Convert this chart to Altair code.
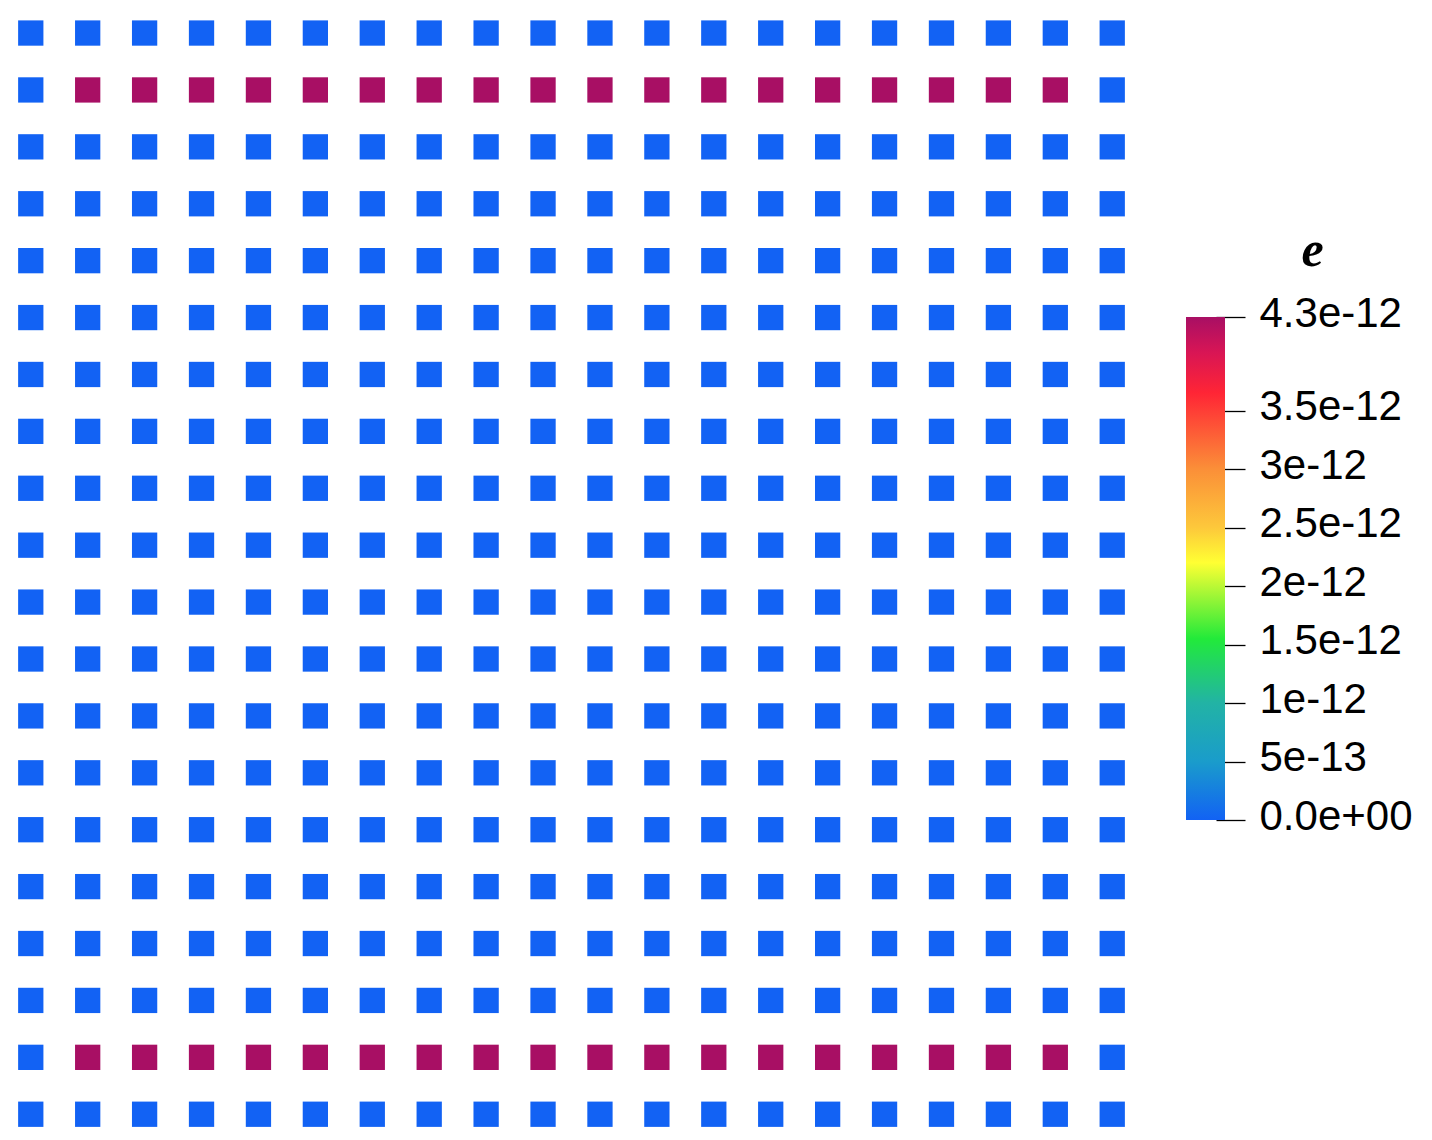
import altair as alt
import pandas as pd

Z = 0.0
H = 4.3e-12
GRID = [
    [Z, Z, Z, Z, Z, Z, Z, Z, Z, Z, Z, Z, Z, Z, Z, Z, Z, Z, Z, Z],
    [Z, H, H, H, H, H, H, H, H, H, H, H, H, H, H, H, H, H, H, Z],
    [Z, Z, Z, Z, Z, Z, Z, Z, Z, Z, Z, Z, Z, Z, Z, Z, Z, Z, Z, Z],
    [Z, Z, Z, Z, Z, Z, Z, Z, Z, Z, Z, Z, Z, Z, Z, Z, Z, Z, Z, Z],
    [Z, Z, Z, Z, Z, Z, Z, Z, Z, Z, Z, Z, Z, Z, Z, Z, Z, Z, Z, Z],
    [Z, Z, Z, Z, Z, Z, Z, Z, Z, Z, Z, Z, Z, Z, Z, Z, Z, Z, Z, Z],
    [Z, Z, Z, Z, Z, Z, Z, Z, Z, Z, Z, Z, Z, Z, Z, Z, Z, Z, Z, Z],
    [Z, Z, Z, Z, Z, Z, Z, Z, Z, Z, Z, Z, Z, Z, Z, Z, Z, Z, Z, Z],
    [Z, Z, Z, Z, Z, Z, Z, Z, Z, Z, Z, Z, Z, Z, Z, Z, Z, Z, Z, Z],
    [Z, Z, Z, Z, Z, Z, Z, Z, Z, Z, Z, Z, Z, Z, Z, Z, Z, Z, Z, Z],
    [Z, Z, Z, Z, Z, Z, Z, Z, Z, Z, Z, Z, Z, Z, Z, Z, Z, Z, Z, Z],
    [Z, Z, Z, Z, Z, Z, Z, Z, Z, Z, Z, Z, Z, Z, Z, Z, Z, Z, Z, Z],
    [Z, Z, Z, Z, Z, Z, Z, Z, Z, Z, Z, Z, Z, Z, Z, Z, Z, Z, Z, Z],
    [Z, Z, Z, Z, Z, Z, Z, Z, Z, Z, Z, Z, Z, Z, Z, Z, Z, Z, Z, Z],
    [Z, Z, Z, Z, Z, Z, Z, Z, Z, Z, Z, Z, Z, Z, Z, Z, Z, Z, Z, Z],
    [Z, Z, Z, Z, Z, Z, Z, Z, Z, Z, Z, Z, Z, Z, Z, Z, Z, Z, Z, Z],
    [Z, Z, Z, Z, Z, Z, Z, Z, Z, Z, Z, Z, Z, Z, Z, Z, Z, Z, Z, Z],
    [Z, Z, Z, Z, Z, Z, Z, Z, Z, Z, Z, Z, Z, Z, Z, Z, Z, Z, Z, Z],
    [Z, H, H, H, H, H, H, H, H, H, H, H, H, H, H, H, H, H, H, Z],
    [Z, Z, Z, Z, Z, Z, Z, Z, Z, Z, Z, Z, Z, Z, Z, Z, Z, Z, Z, Z],
]

# colour map (value stops -> colours)
CMAP_VALUES = [0.0, 0.5e-12, 1.0e-12, 1.55e-12, 2.2e-12, 2.5e-12, 3.0e-12, 3.65e-12, 4.0e-12, 4.3e-12]
CMAP_COLORS = ["#1262F4", "#1A9CCB", "#22B3A5", "#22EA3A", "#FFFF33", "#FDC83B",
               "#FB8F38", "#FF2535", "#D81555", "#A80F64"]

TICK_VALUES = [0.0, 5e-13, 1e-12, 1.5e-12, 2e-12, 2.5e-12, 3e-12, 3.5e-12, 4.3e-12]
TICK_LABELS = ["0.0e+00", "5e-13", "1e-12", "1.5e-12", "2e-12", "2.5e-12", "3e-12", "3.5e-12", "4.3e-12"]

CB_LO = [0.0]
CB_HI = [4.3e-12]

rows, cols, vals = [], [], []
for r, line in enumerate(GRID):
    for c, v in enumerate(line):
        rows.append(r)
        cols.append(c)
        vals.append(v)
df = pd.DataFrame({"row": rows, "col": cols, "e": vals})

color_scale = alt.Scale(domain=CMAP_VALUES, range=CMAP_COLORS, interpolate="rgb")

grid = alt.Chart(df).mark_square(size=640, opacity=1, clip=False).encode(
    x=alt.X("col:Q", scale=alt.Scale(domain=[-0.4, 19.4], nice=False, zero=False), axis=None),
    y=alt.Y("row:Q", scale=alt.Scale(domain=[-0.44, 19.4], nice=False, zero=False, reverse=True), axis=None),
    color=alt.Color("e:Q", scale=color_scale, legend=None),
).properties(width=1127, height=1129)

vmax = CMAP_VALUES[-1]
stops = [alt.GradientStop(color=c, offset=v / vmax) for v, c in zip(CMAP_VALUES, CMAP_COLORS)]
gradient = alt.LinearGradient(gradient="linear", stops=stops, x1=0, x2=0, y1=1, y2=0)

expr = ""
for v, lab in zip(TICK_VALUES, TICK_LABELS):
    expr += f"abs(datum.value - {v!r}) < 1e-15 ? '{lab}' : "
expr += "''"

cb_df = pd.DataFrame({"lo": CB_LO, "hi": CB_HI})
colorbar = alt.Chart(cb_df).mark_rect(color=gradient).encode(
    x=alt.value(0),
    x2=alt.value(39),
    y=alt.Y("lo:Q",
            scale=alt.Scale(domain=[-2.7099e-12, 6.9416e-12], nice=False, zero=False),
            axis=alt.Axis(orient="right", values=TICK_VALUES, labelExpr=expr,
                          domain=False, grid=False, offset=-9, tickSize=29,
                          tickColor="#000000", tickWidth=1.3,
                          labelFont="Liberation Sans", labelFontSize=42,
                          labelColor="#000000", labelPadding=14, labelOffset=-4,
                          labelBaseline="middle", labelFlush=False, labelOverlap=False,
                          title="e", titleFont="Liberation Serif", titleFontStyle="italic",
                          titleFontWeight="bold", titleFontSize=50, titleColor="#000000",
                          titleAngle=0, titleX=96, titleY=257, titleAlign="center",
                          titleBaseline="alphabetic")),
    y2="hi:Q",
).properties(width=39, height=1129)

chart = alt.hconcat(grid, colorbar, spacing=51).properties(
    padding={"left": 0, "top": 0, "right": 0, "bottom": 0}
).configure(background="#ffffff").configure_view(stroke=None, strokeWidth=0)

chart.save("out.html", embed_options={"renderer": "svg", "actions": False})
